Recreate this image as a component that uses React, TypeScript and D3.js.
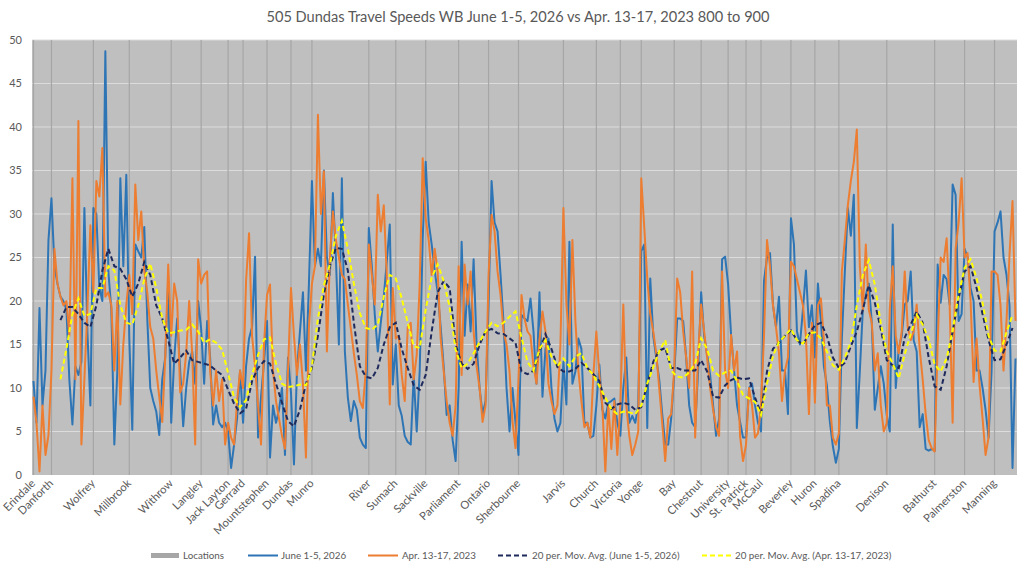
import React from 'react';
import * as d3 from 'd3';

// Chart data
const title = '505 Dundas Travel Speeds WB June 1-5, 2026 vs Apr. 13-17, 2023 800 to 900';

const locationNames = [
  'Erindale', 'Danforth', 'Wolfrey', 'Millbrook', 'Withrow', 'Langley', 'Jack Layton', 'Gerrard',
  'Mountstephen', 'Dundas', 'Munro', 'River', 'Sumach', 'Sackville', 'Parliament', 'Ontario',
  'Sherbourne', 'Jarvis', 'Church', 'Victoria', 'Yonge', 'Bay', 'Chestnut', 'University',
  'St. Patrick', 'McCaul', 'Beverley', 'Huron', 'Spadina', 'Denison', 'Bathurst', 'Palmerston', 'Manning',
];
// category index of each location bar
const locationIndex = [
  0, 6, 20, 32, 46, 56, 65, 70, 78, 86, 93, 112, 121, 131, 142, 152, 162,
  177, 188, 196, 203, 214, 223, 232, 238, 243, 253, 261, 269, 285, 301, 311, 321,
];

const june2026 = [
  10.8, 6, 19.2, 8, 12, 27, 31.8, 24, 22, 20.5,
  20, 19, 10.8, 5.8, 12.5, 11.5, 13, 30.7, 16.5, 8,
  30.7, 30, 21.5, 20, 48.7, 23.4, 19, 3.5, 12, 34.1,
  24, 34.5, 15.7, 5.2, 26.5, 25.7, 25, 28.5, 18, 10,
  8.5, 7.3, 4.6, 11, 13.5, 22.3, 6, 13.4, 18, 12,
  5.6, 10, 13, 14.2, 10.5, 20, 16.8, 10.5, 17.7, 13.5,
  5.8, 8, 6, 5.5, 6, 5, 0.8, 3.5, 6.5, 12,
  6, 12.5, 15.7, 17, 25.1, 4.3, 9, 13, 17.7, 2,
  8, 6, 7.5, 10, 2.3, 13.5, 9.5, 1.2, 12, 16.5,
  21, 12, 22, 33.8, 24, 26, 24, 35, 25, 23,
  32.4, 25, 15, 34.1, 14.2, 8.9, 6.2, 8.5, 7.5, 4.3,
  3.5, 3.1, 28.4, 24, 18.4, 14.2, 17.5, 20.5, 24.5, 28.8,
  10.4, 15, 8, 6.8, 4.5, 3.8, 3.5, 11.5, 5, 12,
  27.2, 36, 29, 26.5, 23.5, 21, 17, 12.5, 6.9, 8,
  4, 1.6, 10, 26.8, 16, 21.9, 16.5, 24.8, 15, 10,
  7, 8.5, 19.6, 33.8, 29, 28, 23, 17.5, 10, 5,
  10, 6, 2.3, 18.4, 18, 17.7, 20.3, 16.5, 10.5, 21,
  9, 14.5, 15.7, 10, 6.5, 5, 6, 13, 8.1, 26.8,
  10.5, 11.9, 15.7, 14.5, 6, 6, 4.3, 4.5, 8, 12.7,
  7.5, 6.5, 8.3, 8.5, 8.8, 6, 4.5, 10, 13.5, 6,
  6.8, 6, 8, 25.7, 26.5, 5.4, 22.6, 16, 13.5, 11,
  7, 3.5, 3.5, 6.5, 11.5, 18, 18, 17.7, 13.5, 8,
  6, 5.5, 12, 21, 16, 13.8, 11.5, 8, 4.5, 6.5,
  24.8, 25.1, 22, 16.1, 12, 8, 6.1, 4.3, 4.3, 10,
  10.5, 8, 6, 5, 22.3, 25, 25.5, 19.5, 17, 20.5,
  12, 12, 7, 29.5, 26.5, 16.5, 15, 19, 23.5, 17,
  19.5, 13.5, 22, 17.7, 12.5, 10.3, 6.1, 3.3, 1.4, 3,
  15.7, 23.4, 30.7, 27.5, 32.2, 5.4, 11.9, 19, 20.7, 22,
  17.5, 7.5, 10, 12.5, 10.5, 6.9, 5, 28.8, 10, 14.5,
  16, 19.6, 20, 23.4, 15.5, 14.2, 5.5, 7, 3, 2.8,
  3, 2.8, 24.2, 19.8, 23, 22.5, 19.6, 33.4, 32.2, 17.7,
  18.5, 26, 25, 21.5, 20, 12, 12, 10, 7.5, 4.3,
  11.9, 28, 29, 30.3, 25, 23, 19.5, 0.8, 13.4,
];

const apr2023 = [
  9, 6, 0.4, 8, 2.3, 4.6, 12, 26, 22, 20.5,
  19.5, 20, 16, 34.1, 11, 40.7, 3.5, 11, 19, 28.7,
  21, 33.8, 32, 37.6, 20.5, 21, 19.5, 12, 20, 8.1,
  15, 19.6, 23, 18.5, 33.4, 27, 30.3, 23.5, 21, 17,
  15.7, 12, 9, 6.1, 13.5, 24.2, 16, 22, 20, 9.5,
  10.5, 14, 20, 14, 3.5, 24.8, 22, 23, 23.4, 12,
  8, 12, 8.5, 11, 3.5, 6, 4.3, 3.5, 8.5, 12,
  10, 22.3, 27.8, 16, 12.5, 8, 3.5, 15, 20.7, 21.9,
  12, 8.5, 6.5, 4.5, 3, 12, 21.5, 16, 11.5, 15,
  10.5, 2, 17, 22, 24, 41.4, 30, 34.9, 14.2, 25,
  30.3, 27, 25, 23, 22.5, 19.6, 16.8, 14, 11.5, 8.5,
  7.7, 12, 26.5, 23, 19.6, 32.2, 28, 31, 23, 8.1,
  21.5, 15.7, 16, 11.5, 8.5, 17, 17.5, 11, 13.8, 22,
  36.4, 29.5, 27, 23, 26, 23.4, 15.7, 12, 8.5, 6,
  4.5, 8, 24, 11.5, 24.2, 19.6, 23.4, 16.5, 12.5, 10,
  6.1, 8, 23, 29.9, 28, 23.4, 20.7, 16.5, 15, 11.9,
  6.1, 3.1, 11, 20.7, 18, 16.5, 16, 12.5, 10.5, 15.5,
  18.8, 16.5, 10.5, 8.5, 7, 8, 15, 30.7, 19.6, 15,
  27, 17.7, 12, 8.5, 5.5, 6, 4.3, 11.5, 16.5, 11.5,
  8, 0.4, 8, 3, 8.5, 2.3, 8, 19.6, 8, 4.5,
  2.3, 3.5, 5, 34.1, 28.5, 22.6, 18.5, 16.5, 14, 10,
  6, 1.6, 6.5, 7, 12, 22.6, 21, 16.5, 13.5, 10,
  23.4, 4.3, 14, 19.6, 16.5, 13.5, 10, 7.5, 5.5, 4.5,
  23.4, 12, 10, 16.1, 12, 14.2, 4.5, 1.6, 3.5, 10,
  8, 4.3, 4.8, 8, 16, 27, 24, 19.5, 17, 14,
  8.5, 12, 13.5, 24.5, 24, 22.5, 21, 19.5, 16, 7,
  17.5, 8.3, 19.5, 20.3, 15.5, 8, 8, 4.3, 3.5, 4.8,
  23.4, 27, 31, 33.8, 36, 39.7, 24, 19, 26.5, 19,
  17.5, 12, 14, 8, 5, 6, 19, 24, 16, 14,
  16.5, 23.4, 17, 15.5, 16.5, 19.6, 14.5, 11, 7, 4,
  3.1, 2.7, 15, 25, 24.5, 27.2, 19.6, 6, 26, 29,
  34.1, 25, 25.5, 20, 10.7, 15.7, 10.3, 6.5, 2.3, 4.3,
  23.4, 23.4, 23, 19.5, 12, 17.7, 25.3, 31.5, 17.7,
];

// 20 per. moving averages, read every second category starting at category 9
const avgStart = 9;
const avgStep = 2;

const june2026Avg = [
  17.8, 19.3, 19.3, 18.5, 17.5, 17, 19.5, 23.5, 26, 24,
  23.7, 22.5, 20.5, 22, 24.5, 23, 19.5, 18, 15.5, 12.8,
  13.5, 14.3, 13.2, 13, 12.8, 12.6, 12, 11.5, 9.8, 8.2,
  7.1, 7.6, 10.8, 12.3, 13.1, 12.8, 10.5, 8.3, 6.2, 5.6,
  7.5, 10.5, 12.3, 16, 20.8, 24, 26.1, 26, 23.5, 17.5,
  12.5, 11.3, 11.1, 12.3, 15, 17, 17.5, 14.5, 12.3, 10.3,
  9.8, 11.5, 16.5, 21, 22.3, 21.5, 15, 12.8, 12.2, 12.8,
  15, 16.5, 16.8, 16.3, 16.2, 15.7, 15.2, 11.9, 11.6, 12,
  14.2, 16.2, 14.5, 12.4, 11.9, 11.9, 12.2, 12.9, 12.3, 11.6,
  10.8, 8.3, 7.6, 8.1, 8.3, 8.1, 7.5, 7.8, 10.4, 13,
  14.3, 14.6, 12.3, 12.3, 12, 12, 12, 13.2, 11.9, 9,
  8.9, 10.3, 10.9, 11.2, 11, 11.1, 8.9, 7.1, 11.9, 14.5,
  15.2, 16, 16.6, 15.5, 15, 16.2, 17.2, 17.5, 16, 13.5,
  12.3, 12.9, 14.8, 16.5, 19, 21.8, 19.8, 16.8, 13.2, 12.6,
  12.3, 15.8, 17.3, 18.8, 17.5, 13.5, 10.2, 9.8, 12.5, 16.5,
  20.3, 23.4, 24, 21.5, 18.5, 15.5, 13.2, 13.3, 15, 16.9,
];

const apr2023Avg = [
  11, 14.5, 18.5, 20.3, 18.3, 18.5, 21.5, 21.5, 24, 23.5,
  19.5, 17.5, 17.3, 19.5, 22.5, 24.3, 21.5, 18, 16.3, 16.4,
  16.6, 16.7, 17.3, 16.5, 15.2, 15.6, 15.2, 14.4, 11.7, 8.9,
  7.8, 8.6, 11.5, 13.8, 15.6, 15.8, 12.8, 10.5, 10.1, 10.2,
  10.4, 10.3, 12.5, 18, 21.8, 24.2, 27.5, 29.2, 26, 22,
  18.6, 16.9, 16.7, 17.3, 20.5, 23, 22.6, 20.3, 17.5, 14.8,
  14.6, 19, 22.7, 24.2, 22.3, 19.3, 14.4, 12.3, 12.8, 14,
  15.3, 16.5, 17.5, 17.1, 17.5, 18.2, 18.8, 15.8, 13, 12,
  14.5, 15.5, 13.6, 12.5, 13.4, 12.5, 13.6, 14, 12.3, 11.5,
  10.2, 8.9, 7.6, 7, 7.3, 7.2, 7, 8, 10.5, 12.4,
  14.2, 15.5, 12, 11.3, 11.2, 11.8, 12.8, 15.7, 14.5, 12,
  11.4, 11.8, 12, 10.8, 9.2, 8.8, 8.4, 6.9, 10.5, 13.7,
  15.3, 16, 16.8, 15.5, 15.1, 16.3, 16.4, 15.7, 14.2, 12.6,
  12.1, 13.5, 15.3, 19.5, 23, 24.7, 21.9, 17.4, 14.2, 12.8,
  11.1, 13.9, 16.2, 18.4, 17.3, 15.6, 12.7, 11.9, 13.4, 16.6,
  20.7, 23.8, 24.8, 22.6, 19.8, 16, 14.3, 14.2, 16.4, 18.4,
];

const yTicks = [0, 5, 10, 15, 20, 25, 30, 35, 40, 45, 50];

const seriesNames = [
  'Locations',
  'June 1-5, 2026',
  'Apr. 13-17, 2023',
  '20 per. Mov. Avg. (June 1-5, 2026)',
  '20 per. Mov. Avg. (Apr. 13-17, 2023)',
];

const W = 1024;
const H = 565;
const M = { left: 32, right: 1017, top: 40, bottom: 475 };
const FONT = 'Lato, "Open Sans", sans-serif';
const TEXT = '#595959';
const BLUE = '#2e75b6';
const ORANGE = '#ed7d31';
const NAVY = '#1f2a5c';
const YELLOW = '#ffff00';
const BAR = '#a6a6a6';

export default function App() {
  const cats = d3.range(june2026.length);
  const x = d3.scalePoint<number>().domain(cats).range([M.left, M.right]).padding(0.5);
  const y = d3.scaleLinear().domain([0, 50]).range([M.bottom, M.top]);

  const raw = d3.line<number>()
    .x((_, i) => x(i) as number)
    .y((d) => y(d));
  const avg = d3.line<number>()
    .x((_, k) => x(avgStart + k * avgStep) as number)
    .y((d) => y(d));

  // legend layout: symbol start x, text start x
  const legend = [
    { sx: 151, tx: 183, kind: 'bar', color: BAR, dash: '' },
    { sx: 248, tx: 281, kind: 'line', color: BLUE, dash: '' },
    { sx: 368, tx: 402, kind: 'line', color: ORANGE, dash: '' },
    { sx: 498, tx: 532, kind: 'line', color: NAVY, dash: '5,3' },
    { sx: 702, tx: 735, kind: 'line', color: YELLOW, dash: '5,3' },
  ];

  return (
    <svg width={W} height={H} style={{ position: 'absolute', left: 0, top: 0, background: '#fff' }}
      fontFamily={FONT}>
      <text x={518} y={22} textAnchor="middle" fontSize={14.6} fill={TEXT}>{title}</text>

      {/* plot area */}
      <rect x={M.left} y={M.top} width={M.right - M.left} height={M.bottom - M.top} fill="#bfbfbf" />
      {yTicks.map((t) => (
        <g key={t}>
          {t > 0 && (
            <line x1={M.left} x2={M.right} y1={y(t)} y2={y(t)} stroke="#dcdcdc" strokeWidth={1} />
          )}
          <text x={22} y={y(t)} dy="0.35em" textAnchor="end" fontSize={11} fill={TEXT}>{t}</text>
        </g>
      ))}

      {/* location bars */}
      {locationIndex.map((c, i) => (
        <rect key={locationNames[i]} x={(x(c) as number) - 0.6} y={y(50)} width={1.2}
          height={y(0) - y(50)} fill={BAR} />
      ))}

      <path d={raw(june2026) || ''} fill="none" stroke={BLUE} strokeWidth={2} strokeLinejoin="round" />
      <path d={raw(apr2023) || ''} fill="none" stroke={ORANGE} strokeWidth={2} strokeLinejoin="round" />
      <path d={avg(june2026Avg) || ''} fill="none" stroke={NAVY} strokeWidth={2} strokeDasharray="5,3" />
      <path d={avg(apr2023Avg) || ''} fill="none" stroke={YELLOW} strokeWidth={2} strokeDasharray="5,3" />

      {/* category labels */}
      {locationIndex.map((c, i) => (
        <text key={locationNames[i]} transform={`translate(${(x(c) as number) + 2.5},${484}) rotate(-45)`}
          textAnchor="end" fontSize={11.2} fill={TEXT}>{locationNames[i]}</text>
      ))}

      {/* legend */}
      {legend.map((l, i) => (
        <g key={seriesNames[i]}>
          {l.kind === 'bar' ? (
            <rect x={l.sx} y={553} width={28} height={5} fill={l.color} />
          ) : (
            <line x1={l.sx} x2={l.sx + 30} y1={555.5} y2={555.5} stroke={l.color} strokeWidth={2}
              strokeDasharray={l.dash || undefined} />
          )}
          <text x={l.tx} y={555.5} dy="0.35em" fontSize={9.8} fill={TEXT}>{seriesNames[i]}</text>
        </g>
      ))}
    </svg>
  );
}
